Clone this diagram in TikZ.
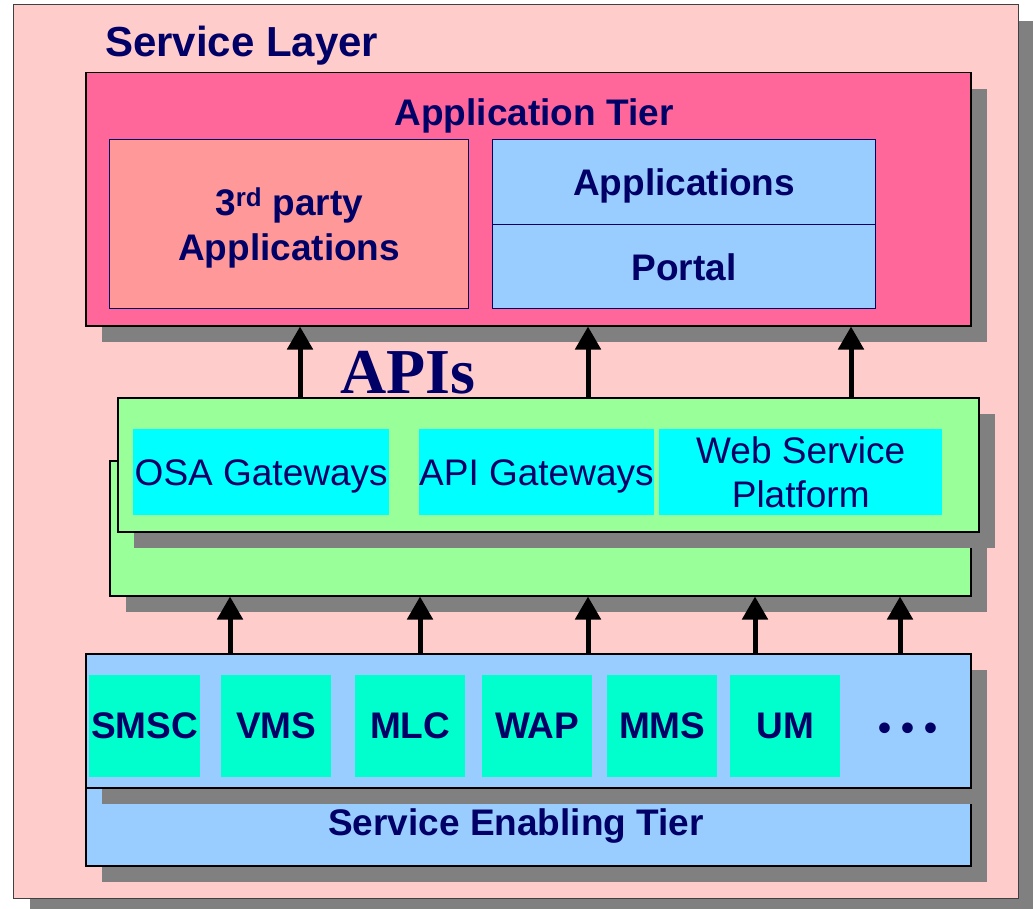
\documentclass[tikz,border=0pt]{standalone}
\usepackage{fontspec}
\setmainfont{Liberation Sans}
\newfontfamily\apifont{Liberation Serif}
\usetikzlibrary{arrows.meta,shadows}

\definecolor{navy}{HTML}{000066}
\definecolor{layerpink}{HTML}{FFCCCC}
\definecolor{tierpink}{HTML}{FF6699}
\definecolor{thirdpink}{HTML}{FF9999}
\definecolor{paleblue}{HTML}{99CCFF}
\definecolor{palegreen}{HTML}{99FF99}
\definecolor{gwcyan}{HTML}{00FFFF}
\definecolor{enmint}{HTML}{00FFCC}
\definecolor{shadowgray}{HTML}{808080}

\tikzset{
  castshadow/.style={drop shadow={shadow xshift=16pt,shadow yshift=-16pt,opacity=1,fill=shadowgray}},
  tierbox/.style={draw=black,line width=1.5pt,inner sep=0pt,anchor=north west,castshadow},
  innerbox/.style={draw=navy,line width=1.2pt,inner sep=0pt,anchor=north west},
  flatbox/.style={inner sep=0pt,anchor=north west},
  boldtxt/.style={text=navy,font=\fontsize{37}{45}\selectfont\bfseries},
  plaintxt/.style={text=navy,font=\fontsize{37}{44}\selectfont},
  uparrow/.style={-{Triangle[length=23pt,width=25pt]},line width=5pt}
}

\begin{document}
\begin{tikzpicture}[x=1pt,y=-1pt]
    \useasboundingbox(0,0)rectangle(1033,909);

    % service layer frame
    \node[flatbox,draw=black!75,line width=1.2pt,fill=layerpink,castshadow,
      minimum width=1005pt,minimum height=894pt](layer)at(13,4){};
    \node[text=navy,font=\fontsize{42}{50}\selectfont\bfseries,anchor=base west,inner sep=0pt]
      (layername)at(105,57){Service Layer};

    % application tier
    \node[tierbox,fill=tierpink,minimum width=885pt,minimum height=253pt](apptier)at(85,72){};
    \node[boldtxt,anchor=base,inner sep=0pt](apptiername)at(534,126){Application Tier};
    \node[innerbox,fill=thirdpink,minimum width=359pt,minimum height=169pt](thirdparty)at(109,139){};
    \node[boldtxt,align=center,inner sep=0pt](thirdpartyname)at([yshift=-4pt]thirdparty.center)
      {3\textsuperscript{rd} party\\Applications};
    \node[innerbox,fill=paleblue,boldtxt,text depth=0pt,minimum width=383pt,minimum height=85pt]
      (apps)at(492,139){Applications};
    \node[innerbox,fill=paleblue,boldtxt,text depth=0pt,minimum width=383pt,minimum height=84pt]
      (portal)at(492,224){Portal};

    % gateways
    \node[tierbox,fill=palegreen,minimum width=861pt,minimum height=135pt](gwback)at(109,460){};
    \node[tierbox,fill=palegreen,minimum width=861pt,minimum height=134pt](gwfront)at(117,397){};
    \node[flatbox,fill=gwcyan,plaintxt,text depth=0pt,minimum width=256pt,minimum height=86pt]
      (osa)at(133,429){OSA Gateways};
    \node[flatbox,fill=gwcyan,plaintxt,text depth=0pt,minimum width=225pt,minimum height=86pt]
      (apigw)at(419,429){API Gateways};
    \node[flatbox,fill=gwcyan,plaintxt,align=center,minimum width=283pt,minimum height=86pt]
      (wsp)at(659,429){Web Service\\Platform};
    \node[text=navy,font=\apifont\bfseries\fontsize{64}{70}\selectfont,anchor=base,inner sep=0pt]
      (apis)at(408,393){APIs};

    % service enabling tier
    \node[tierbox,fill=paleblue,minimum width=885pt,minimum height=212pt](entier)at(85,653){};
    \node[tierbox,fill=paleblue,minimum width=885pt,minimum height=134pt](enablers)at(85,653){};
    \node[boldtxt,anchor=base,inner sep=0pt](entiername)at(516,835){Service Enabling Tier};
    \foreach \x/\w/\name/\txt in {89/111/smsc/SMSC,221/110/vms/VMS,355/110/mlc/MLC,
                                   482/110/wap/WAP,607/110/mms/MMS,730/110/um/UM}
      \node[flatbox,fill=enmint,boldtxt,minimum width=\w pt,minimum height=102pt](\name)at(\x,675){\txt};
    \node[boldtxt,anchor=base,inner sep=0pt](more)at(908,740){• • •};

    % arrows
    \foreach \x in {300,588,851}
      \draw[uparrow](\x,0 |- gwfront.north)--(\x,0 |- apptier.south);
    \foreach \x in {230,420,588,755,900}
      \draw[uparrow](\x,0 |- entier.north)--(\x,0 |- gwback.south);
\end{tikzpicture}
\end{document}
